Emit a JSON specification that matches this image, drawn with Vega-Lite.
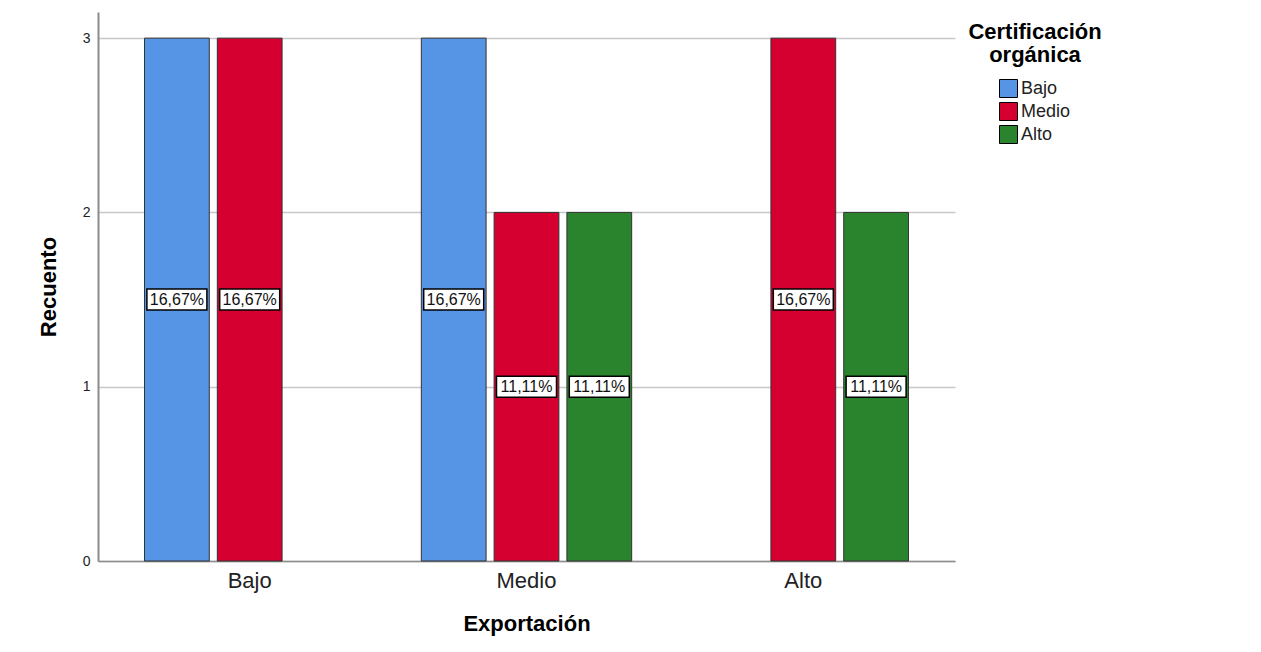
{
  "$schema": "https://vega.github.io/schema/vega-lite/v6.json",
  "width": 857,
  "height": 549,
  "autosize": {"type": "none"},
  "padding": {"left": 98, "top": 12, "right": 306, "bottom": 91},
  "background": "white",
  "config": {
    "font": "Liberation Sans",
    "view": {"stroke": null}
  },
  "data": {
    "values": [
      {"exportacion": "Bajo", "certificacion": "Bajo", "recuento": 3, "porcentaje": "16,67%"},
      {"exportacion": "Bajo", "certificacion": "Medio", "recuento": 3, "porcentaje": "16,67%"},
      {"exportacion": "Medio", "certificacion": "Bajo", "recuento": 3, "porcentaje": "16,67%"},
      {"exportacion": "Medio", "certificacion": "Medio", "recuento": 2, "porcentaje": "11,11%"},
      {"exportacion": "Medio", "certificacion": "Alto", "recuento": 2, "porcentaje": "11,11%"},
      {"exportacion": "Alto", "certificacion": "Medio", "recuento": 3, "porcentaje": "16,67%"},
      {"exportacion": "Alto", "certificacion": "Alto", "recuento": 2, "porcentaje": "11,11%"}
    ]
  },
  "transform": [{"calculate": "datum.recuento / 2", "as": "medio"}],
  "encoding": {
    "x": {
      "field": "exportacion",
      "type": "nominal",
      "sort": ["Bajo", "Medio", "Alto"],
      "scale": {"paddingInner": 0.24, "paddingOuter": 0.168},
      "axis": {
        "title": "Exportación",
        "labelAngle": 0,
        "ticks": false,
        "labelFontSize": 22,
        "labelPadding": 9,
        "labelColor": "#222222",
        "domainColor": "#8c8c8c",
        "domainWidth": 1.5,
        "titleFontSize": 22,
        "titleFontWeight": "bold",
        "titleColor": "black",
        "titlePadding": 22
      }
    },
    "xOffset": {
      "field": "certificacion",
      "type": "nominal",
      "sort": ["Bajo", "Medio", "Alto"],
      "scale": {"domain": ["Bajo", "Medio", "Alto"], "paddingInner": 0.11, "paddingOuter": 0}
    }
  },
  "layer": [
    {
      "mark": {"type": "bar", "stroke": "#333333", "strokeWidth": 1},
      "encoding": {
        "y": {
          "field": "recuento",
          "type": "quantitative",
          "scale": {"domain": [0, 3.15], "nice": false},
          "axis": {
            "title": "Recuento",
            "values": [0, 1, 2, 3],
            "format": "d",
            "ticks": false,
            "labelFontSize": 14,
            "labelPadding": 8,
            "labelColor": "#222222",
            "domainColor": "#8c8c8c",
            "domainWidth": 2,
            "grid": true,
            "gridColor": "#c8c8c8",
            "gridWidth": 1.5,
            "titleFontSize": 22,
            "titleFontWeight": "bold",
            "titleColor": "black",
            "titlePadding": 22
          }
        },
        "color": {
          "field": "certificacion",
          "type": "nominal",
          "sort": ["Bajo", "Medio", "Alto"],
          "scale": {"domain": ["Bajo", "Medio", "Alto"], "range": ["#5694e5", "#d5002f", "#2a842e"]},
          "legend": {
            "title": ["Certificación", "orgánica"],
            "orient": "none",
            "legendX": 870,
            "legendY": 10,
            "padding": 0,
            "titleFontSize": 22,
            "titleFontWeight": "bold",
            "titleColor": "black",
            "titleAlign": "center",
            "titleAnchor": "middle",
            "titleLineHeight": 23,
            "titlePadding": 12,
            "labelFontSize": 18,
            "labelColor": "#222222",
            "labelOffset": 3,
            "symbolType": "square",
            "symbolSize": 324,
            "symbolStrokeColor": "black",
            "symbolStrokeWidth": 1,
            "symbolOpacity": 1,
            "rowPadding": 0
          }
        }
      }
    },
    {
      "mark": {
        "type": "point",
        "shape": "M-1,-0.35H1V0.35H-1Z",
        "size": 3600,
        "filled": true,
        "fill": "white",
        "stroke": "black",
        "strokeWidth": 1.5,
        "opacity": 1
      },
      "encoding": {
        "y": {"field": "medio", "type": "quantitative"}
      }
    },
    {
      "mark": {"type": "text", "fontSize": 16, "color": "#111111"},
      "encoding": {
        "y": {"field": "medio", "type": "quantitative"},
        "text": {"field": "porcentaje"}
      }
    }
  ]
}
